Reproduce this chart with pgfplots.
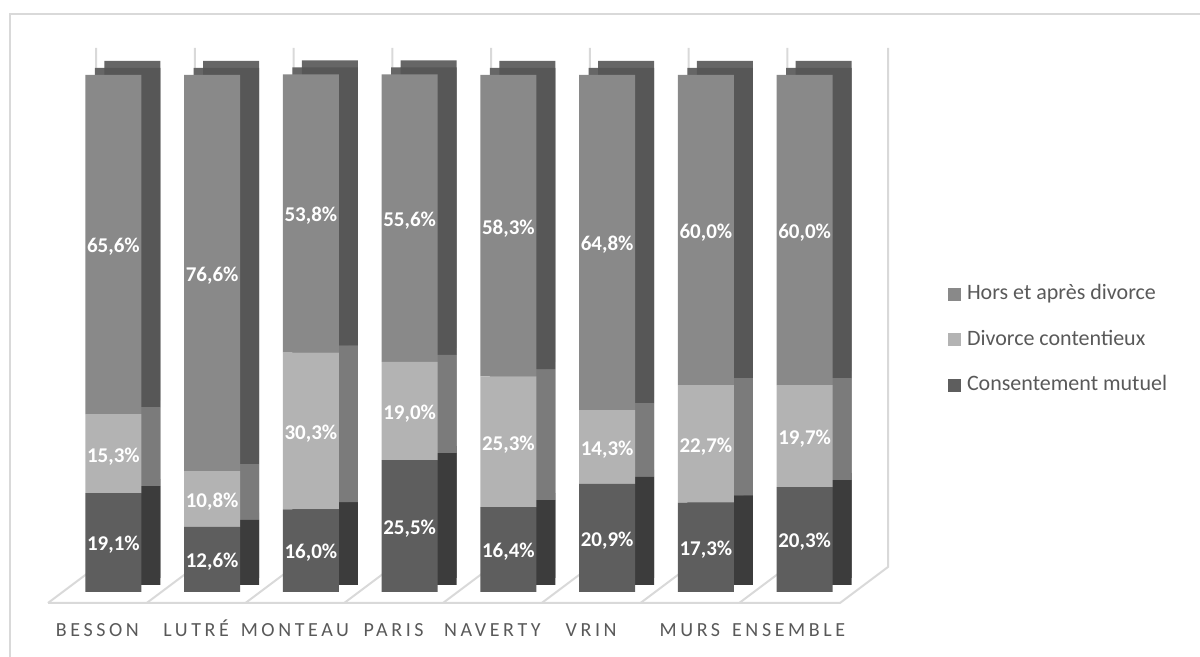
\documentclass[border=0pt]{standalone}
\usepackage{fontspec}
\setmainfont{Carlito}
\newfontfamily\spaced[LetterSpace=18]{Carlito}
\usepackage{pgfplots}
\usepackage{pgfplotstable}
\pgfplotsset{compat=1.18}

% front faces
\definecolor{consF}{HTML}{5E5E5E}
\definecolor{contF}{HTML}{B3B3B3}
\definecolor{horsF}{HTML}{898989}
% side faces
\definecolor{consS}{HTML}{3C3C3C}
\definecolor{contS}{HTML}{7B7B7B}
\definecolor{horsS}{HTML}{575757}
% top face
\definecolor{horsT}{HTML}{666666}
\definecolor{gridc}{HTML}{D9D9D9}
\definecolor{txt}{HTML}{595959}

\pgfplotstableread{
x cat a b c
0 BESSON 19.1 15.3 65.6
1 LUTRÉ 12.6 10.8 76.6
2 MONTEAU 16.0 30.3 53.8
3 PARIS 25.5 19.0 55.6
4 NAVERTY 16.4 25.3 58.3
5 VRIN 20.9 14.3 64.8
6 MURS 17.3 22.7 60.0
7 ENSEMBLE 20.3 19.7 60.0
}\data

% 1px = 0.5pt
\pgfplotsset{
  base/.style={
    scale only axis, width=395pt, height=258.5pt,
    xmin=-0.5, xmax=7.5, ymin=0, ymax=100,
    clip=false, anchor=south west,
  },
  bars/.style={base, ybar stacked, bar width=28pt},
}

\begin{document}
\begin{tikzpicture}[x=0.5pt,y=0.5pt]
\useasboundingbox (0,0) rectangle (1200,657);

% chart frame
\draw[line width=1pt, gridc] (10,0) -- (10,643) -- (1200,643);

% floor and back wall lines
\begin{scope}[line width=1pt, gridc]
  \draw (48,54) -- (840,54) -- (888,90) -- (888,609);
  \foreach \i in {0,...,7} {
    \draw (48+98.75*\i,54) -- (96+98.75*\i,90) -- (96+98.75*\i,609);
  }
\end{scope}

% top faces (two steps for the slanted edge)
\begin{axis}[bars, at={(41.5pt,39.5pt)}, hide axis]
  \addplot[fill=consS, draw=none] table[x=x, y=a] {\data};
  \addplot[fill=contS, draw=none] table[x=x, y=b] {\data};
  \addplot[fill=horsT, draw=none] table[x=x, y=c] {\data};
\end{axis}
\begin{axis}[bars, at={(36.75pt,36pt)}, hide axis]
  \addplot[fill=consS, draw=none] table[x=x, y=a] {\data};
  \addplot[fill=contS, draw=none] table[x=x, y=b] {\data};
  \addplot[fill=horsT, draw=none] table[x=x, y=c] {\data};
\end{axis}

% side faces
\begin{axis}[bars, at={(41.5pt,36pt)}, hide axis]
  \addplot[fill=consS, draw=none] table[x=x, y=a] {\data};
  \addplot[fill=contS, draw=none] table[x=x, y=b] {\data};
  \addplot[fill=horsS, draw=none] table[x=x, y=c] {\data};
\end{axis}

% front faces, ticks and legend
\begin{axis}[bars, at={(32pt,32.5pt)},
    axis line style={draw=none},
    major tick length=0pt,
    ytick=\empty,
    xtick={0,...,7},
    xticklabels from table={\data}{cat},
    xticklabel style={font=\spaced\fontsize{10}{12}\selectfont, text=txt,
      anchor=base, yshift=-22.5pt, xshift=-8pt},
    reverse legend,
    legend cell align=left,
    legend image code/.code={\fill[#1] (0pt,-3.25pt) rectangle (6.5pt,3.25pt);},
    legend style={at={(1.119,0.596)}, anchor=north west, draw=none, fill=none,
      inner sep=0pt, outer sep=0pt, row sep=12.25pt, column sep=3pt,
      font=\fontsize{11}{13}\selectfont, text=txt,
      nodes={inner sep=0pt, text height=8pt, text depth=2.5pt}},
  ]
  \addplot[fill=consF, draw=none] table[x=x, y=a] {\data};
  \addplot[fill=contF, draw=none] table[x=x, y=b] {\data};
  \addplot[fill=horsF, draw=none] table[x=x, y=c] {\data};
  \legend{Consentement mutuel, Divorce contentieux, Hors et après divorce}
\end{axis}

% value labels at the middle of each segment
\begin{axis}[base, at={(32pt,32.5pt)}, hide axis,
    nodes near coords={\pgfmathprintnumber{\pgfplotspointmeta}\%},
    point meta=explicit,
    every node near coord/.append style={anchor=center, yshift=-1.25pt,
      font=\bfseries\fontsize{10.5}{12}\selectfont, text=white,
      /pgf/number format/.cd, fixed, fixed zerofill, precision=1, use comma,
      assume math mode=true},
  ]
  \addplot[draw=none, mark=none] table[x=x, y expr=\thisrow{a}/2, meta=a] {\data};
  \addplot[draw=none, mark=none] table[x=x, y expr=\thisrow{a}+\thisrow{b}/2, meta=b] {\data};
  \addplot[draw=none, mark=none] table[x=x, y expr=\thisrow{a}+\thisrow{b}+\thisrow{c}/2, meta=c] {\data};
\end{axis}
\end{tikzpicture}
\end{document}
